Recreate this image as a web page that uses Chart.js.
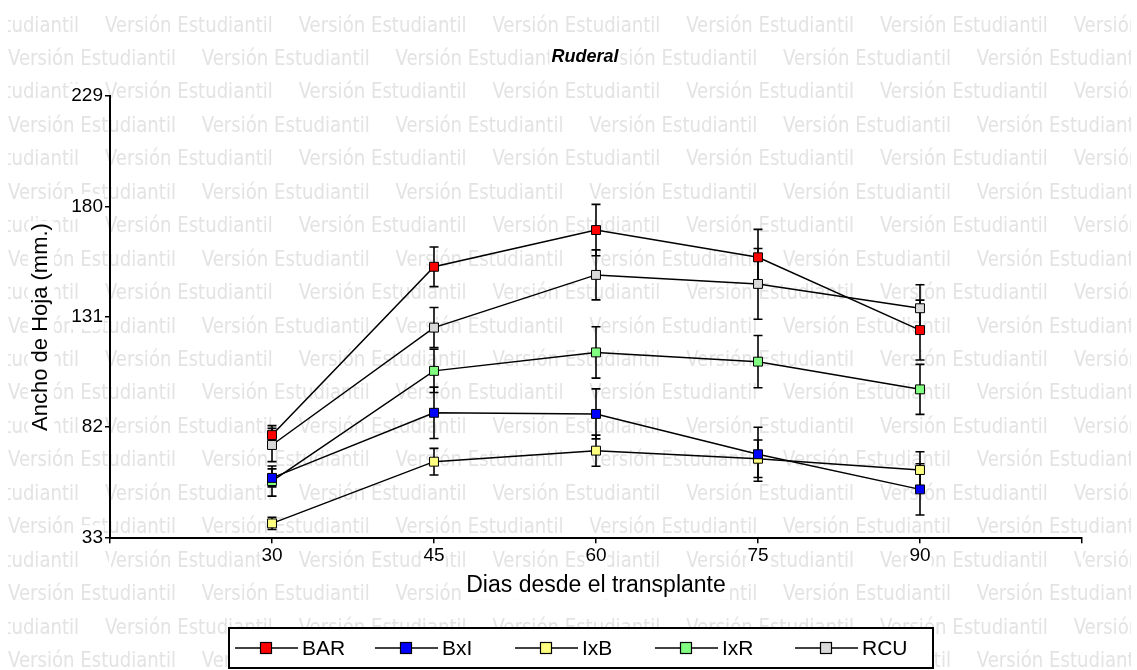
<!DOCTYPE html>
<html>
<head>
<meta charset="utf-8">
<script src="https://cdn.jsdelivr.net/npm/chart.js@4/dist/chart.umd.min.js"></script>
<style>
    html, body { margin: 0; padding: 0; background: #fff; }
    #wrap { width: 1137px; height: 670px; }
</style>
</head>
<body>
<div id="wrap"><canvas id="chart" width="1137" height="670"></canvas></div>
<script>
// Days after transplant, and axis ticks
const dias = [30, 45, 60, 75, 90];
const xTicks = [15, 30, 45, 60, 75, 90, 105];
const yTicks = [33, 82, 131, 180, 229];

// Leaf width (mm) per line, with +/- error
const bar = [78.5, 153.2, 169.5, 157.4, 125.1];
const barErr = [4.2, 8.8, 11.4, 12.4, 13.3];
const bxi = [59.5, 88.4, 87.9, 70.0, 54.4];
const bxiErr = [4.0, 11.4, 11.1, 12.0, 11.4];
const ixb = [39.3, 66.7, 71.6, 68.0, 63.0];
const ixbErr = [2.7, 5.9, 6.9, 8.3, 8.1];
const ixr = [58.1, 107.0, 115.2, 111.1, 98.8];
const ixrErr = [6.7, 9.6, 11.4, 11.6, 11.1];
const rcu = [74.1, 126.2, 149.6, 145.6, 134.8];
const rcuErr = [7.4, 8.9, 11.1, 15.7, 10.4];

const series = [
    { label: 'BAR', values: bar, err: barErr, color: '#ff0000' },
    { label: 'BxI', values: bxi, err: bxiErr, color: '#0000ff' },
    { label: 'IxB', values: ixb, err: ixbErr, color: '#ffff80' },
    { label: 'IxR', values: ixr, err: ixrErr, color: '#80ff80' },
    { label: 'RCU', values: rcu, err: rcuErr, color: '#d9d9d9' },
];

const FONT = '"Liberation Sans", Arial, sans-serif';

// background "Versión Estudiantil" stamp
const watermark = {
    id: 'watermark',
    beforeDraw(chart) {
        const ctx = chart.ctx;
        ctx.save();
        ctx.fillStyle = '#fff';
        ctx.fillRect(0, 0, chart.width, chart.height);
        ctx.beginPath();
        ctx.rect(8, 0, 1123, chart.height);
        ctx.clip();
        ctx.font = '20.5px "DejaVu Sans", sans-serif';
        ctx.fillStyle = '#e3e3e3';
        ctx.textBaseline = 'alphabetic';
        const txt = 'Versión Estudiantil';
        const sx = 168 / ctx.measureText(txt).width;
        const step = 193.75;
        for (let k = 0; k < 21; k++) {
            const y = 31.5 + 33.45 * k;
            let x = k % 2 ? 8 : 8 + step / 2 - step;
            for (; x < chart.width; x += step) {
                ctx.save();
                ctx.translate(x, y);
                ctx.scale(sx, 1);
                ctx.fillText(txt, 0, 0);
                ctx.restore();
            }
        }
        ctx.restore();
    }
};

// vertical error bars with caps, drawn under the lines and markers
const errorBars = {
    id: 'errorBars',
    beforeDatasetsDraw(chart) {
        const ctx = chart.ctx;
        const yScale = chart.scales.y;
        ctx.save();
        ctx.strokeStyle = '#000';
        ctx.lineWidth = 1.6;
        series.forEach((s, i) => {
            const meta = chart.getDatasetMeta(i);
            meta.data.forEach((pt, j) => {
                const top = yScale.getPixelForValue(s.values[j] + s.err[j]);
                const bot = yScale.getPixelForValue(s.values[j] - s.err[j]);
                ctx.beginPath();
                ctx.moveTo(pt.x, top);
                ctx.lineTo(pt.x, bot);
                ctx.moveTo(pt.x - 4.5, top);
                ctx.lineTo(pt.x + 4.5, top);
                ctx.moveTo(pt.x - 4.5, bot);
                ctx.lineTo(pt.x + 4.5, bot);
                ctx.stroke();
            });
        });
        ctx.restore();
    }
};

function boxedText(ctx, text, x, y) {
    const w = ctx.measureText(text).width;
    const fs = parseFloat(ctx.font.match(/(\d+(\.\d+)?)px/)[1]);
    ctx.fillStyle = '#fff';
    ctx.fillRect(x - w / 2 - 2, y - fs * 0.6, w + 4, fs * 1.2);
    ctx.fillStyle = '#000';
    ctx.fillText(text, x, y);
}

// chart title, axis titles and the boxed legend
const labels = {
    id: 'labels',
    afterDraw(chart) {
        const ctx = chart.ctx;
        const area = chart.chartArea;
        ctx.save();
        ctx.textAlign = 'center';
        ctx.textBaseline = 'middle';

        ctx.font = `bold italic 18px ${FONT}`;
        boxedText(ctx, 'Ruderal', 585, 57);

        ctx.font = `23px ${FONT}`;
        boxedText(ctx, 'Dias desde el transplante', (area.left + area.right) / 2, 586);

        ctx.save();
        ctx.translate(41, 327);
        ctx.rotate(-Math.PI / 2);
        ctx.font = `22px ${FONT}`;
        boxedText(ctx, 'Ancho de Hoja (mm.)', 0, 0);
        ctx.restore();

        // legend
        const lx = 229, ly = 628, lw = 704, lh = 40;
        ctx.fillStyle = '#fff';
        ctx.fillRect(lx, ly, lw, lh);
        ctx.strokeStyle = '#000';
        ctx.lineWidth = 2;
        ctx.strokeRect(lx, ly, lw, lh);
        ctx.font = `21px ${FONT}`;
        ctx.textAlign = 'left';
        const cy = ly + lh / 2;
        series.forEach((s, i) => {
            const x0 = 235 + 140 * i;
            ctx.strokeStyle = '#000';
            ctx.lineWidth = 1.5;
            ctx.beginPath();
            ctx.moveTo(x0, cy);
            ctx.lineTo(x0 + 63, cy);
            ctx.stroke();
            ctx.fillStyle = s.color;
            ctx.fillRect(x0 + 25, cy - 6, 12, 12);
            ctx.lineWidth = 1.2;
            ctx.strokeRect(x0 + 25.5, cy - 5.5, 11, 11);
            ctx.fillStyle = '#000';
            ctx.fillText(s.label, x0 + 67, cy + 1);
        });
        ctx.restore();
    }
};

const tickFont = { family: FONT, size: 19 };

new Chart(document.getElementById('chart'), {
    type: 'line',
    data: {
        datasets: series.map(s => ({
            label: s.label,
            data: dias.map((d, i) => ({ x: d, y: s.values[i] })),
            borderColor: '#000',
            borderWidth: 1.5,
            tension: 0,
            pointStyle: 'rect',
            pointRadius: 6.3,
            pointBackgroundColor: s.color,
            pointBorderColor: '#000',
            pointBorderWidth: 1,
        }))
    },
    options: {
        responsive: false,
        animation: false,
        events: [],
        layout: { padding: { left: 0, right: 55, top: 96, bottom: 0 } },
        plugins: {
            legend: { display: false },
            tooltip: { enabled: false },
            title: { display: false }
        },
        scales: {
            x: {
                type: 'linear',
                min: 15,
                max: 105,
                afterBuildTicks: s => { s.ticks = xTicks.map(v => ({ value: v })); },
                afterFit: s => { s.height = 132.4; },
                border: { color: '#000', width: 2 },
                grid: { drawOnChartArea: false, drawTicks: true, tickLength: 6, color: '#000', lineWidth: 1.5 },
                ticks: {
                    font: tickFont,
                    color: '#000',
                    padding: 1,
                    maxRotation: 0,
                    showLabelBackdrop: true,
                    backdropColor: '#fff',
                    backdropPadding: 1,
                    callback: v => (dias.includes(v) ? String(v) : '')
                }
            },
            y: {
                min: 33,
                max: 229,
                afterBuildTicks: s => { s.ticks = yTicks.map(v => ({ value: v })); },
                afterFit: s => { s.width = 110; },
                border: { color: '#000', width: 2 },
                grid: { drawOnChartArea: false, drawTicks: true, tickLength: 5, color: '#000', lineWidth: 1.5 },
                ticks: {
                    font: tickFont,
                    color: '#000',
                    padding: 2,
                    showLabelBackdrop: true,
                    backdropColor: '#fff',
                    backdropPadding: 1
                }
            }
        }
    },
    plugins: [watermark, errorBars, labels]
});
</script>
</body>
</html>
